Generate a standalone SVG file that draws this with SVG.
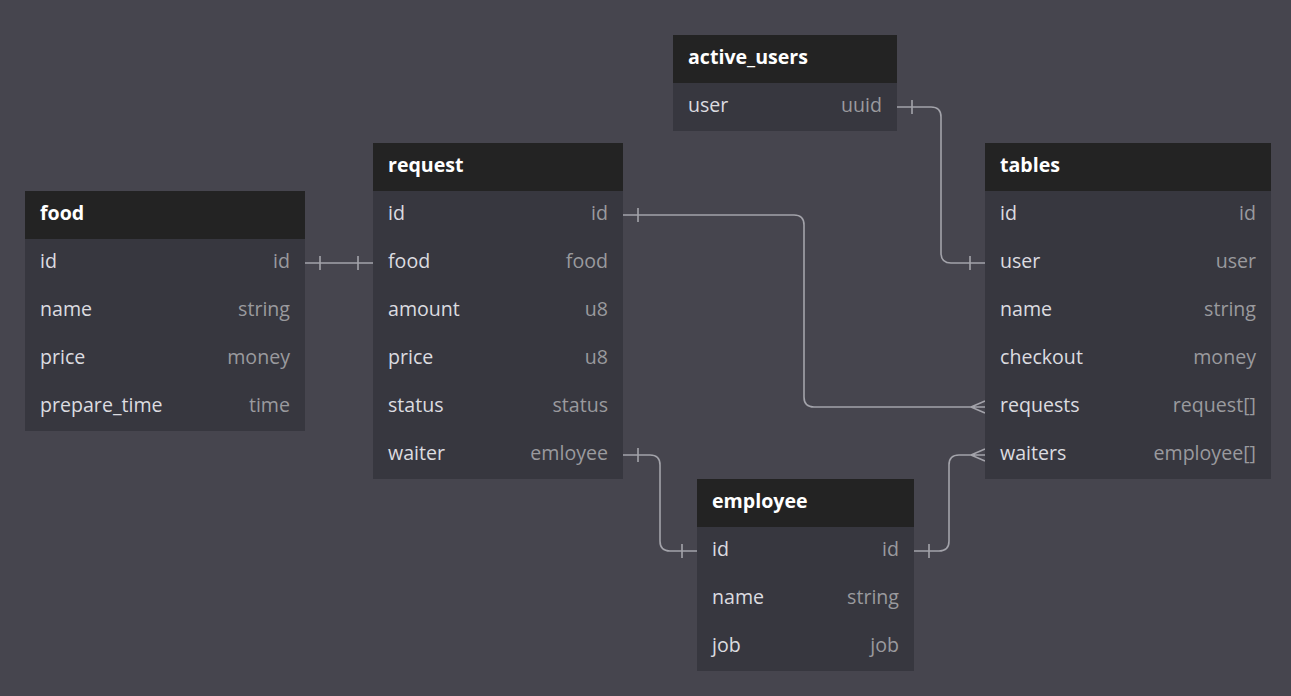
<svg xmlns="http://www.w3.org/2000/svg" width="1291" height="696" viewBox="0 0 1291 696">
<style>
.bg{fill:#46454e}
.hd{fill:#232323}
.bd{fill:#37373f}
.t{font-family:"Open Sans","Liberation Sans",sans-serif;font-size:19.6px}
.h{fill:#ffffff;font-weight:bold}
.n{fill:#dcdce0}
.y{fill:#9a9a9e;text-anchor:end}
.c{fill:none;stroke:#a3a3aa;stroke-width:1.6}
</style>
<rect class="bg" x="0" y="0" width="1291" height="696"/>
<g id="connectors">
<path class="c" d="M305 263H373M320 256V270M358 256V270"/>
<path class="c" d="M623 215H794Q804 215 804 225V397Q804 407 814 407H985M638 208V222M971 407L985 401M971 407L985 413"/>
<path class="c" d="M897 107H931Q941 107 941 117V253Q941 263 951 263H985M912 100V114M970 256V270"/>
<path class="c" d="M623 455H650Q660 455 660 465V541Q660 551 670 551H697M638 448V462M682 544V558"/>
<path class="c" d="M914 551H939Q949 551 949 541V465Q949 455 959 455H985M929 544V558M971 455L985 449M971 455L985 461"/>
</g>
<g id="food" class="t">
<rect class="hd" x="25" y="191" width="280" height="48"/>
<rect class="bd" x="25" y="239" width="280" height="192"/>
<text class="h" x="40" y="220">food</text>
<text class="n" x="40" y="268">id</text><text class="y" x="290" y="268">id</text>
<text class="n" x="40" y="316">name</text><text class="y" x="290" y="316">string</text>
<text class="n" x="40" y="364">price</text><text class="y" x="290" y="364">money</text>
<text class="n" x="40" y="412">prepare_time</text><text class="y" x="290" y="412">time</text>
</g>
<g id="request" class="t">
<rect class="hd" x="373" y="143" width="250" height="48"/>
<rect class="bd" x="373" y="191" width="250" height="288"/>
<text class="h" x="388" y="172">request</text>
<text class="n" x="388" y="220">id</text><text class="y" x="608" y="220">id</text>
<text class="n" x="388" y="268">food</text><text class="y" x="608" y="268">food</text>
<text class="n" x="388" y="316">amount</text><text class="y" x="608" y="316">u8</text>
<text class="n" x="388" y="364">price</text><text class="y" x="608" y="364">u8</text>
<text class="n" x="388" y="412">status</text><text class="y" x="608" y="412">status</text>
<text class="n" x="388" y="460">waiter</text><text class="y" x="608" y="460">emloyee</text>
</g>
<g id="active_users" class="t">
<rect class="hd" x="673" y="35" width="224" height="48"/>
<rect class="bd" x="673" y="83" width="224" height="48"/>
<text class="h" x="688" y="64">active_users</text>
<text class="n" x="688" y="112">user</text><text class="y" x="882" y="112">uuid</text>
</g>
<g id="tables" class="t">
<rect class="hd" x="985" y="143" width="286" height="48"/>
<rect class="bd" x="985" y="191" width="286" height="288"/>
<text class="h" x="1000" y="172">tables</text>
<text class="n" x="1000" y="220">id</text><text class="y" x="1256" y="220">id</text>
<text class="n" x="1000" y="268">user</text><text class="y" x="1256" y="268">user</text>
<text class="n" x="1000" y="316">name</text><text class="y" x="1256" y="316">string</text>
<text class="n" x="1000" y="364">checkout</text><text class="y" x="1256" y="364">money</text>
<text class="n" x="1000" y="412">requests</text><text class="y" x="1256" y="412">request[]</text>
<text class="n" x="1000" y="460">waiters</text><text class="y" x="1256" y="460">employee[]</text>
</g>
<g id="employee" class="t">
<rect class="hd" x="697" y="479" width="217" height="48"/>
<rect class="bd" x="697" y="527" width="217" height="144"/>
<text class="h" x="712" y="508">employee</text>
<text class="n" x="712" y="556">id</text><text class="y" x="899" y="556">id</text>
<text class="n" x="712" y="604">name</text><text class="y" x="899" y="604">string</text>
<text class="n" x="712" y="652">job</text><text class="y" x="899" y="652">job</text>
</g>
</svg>
